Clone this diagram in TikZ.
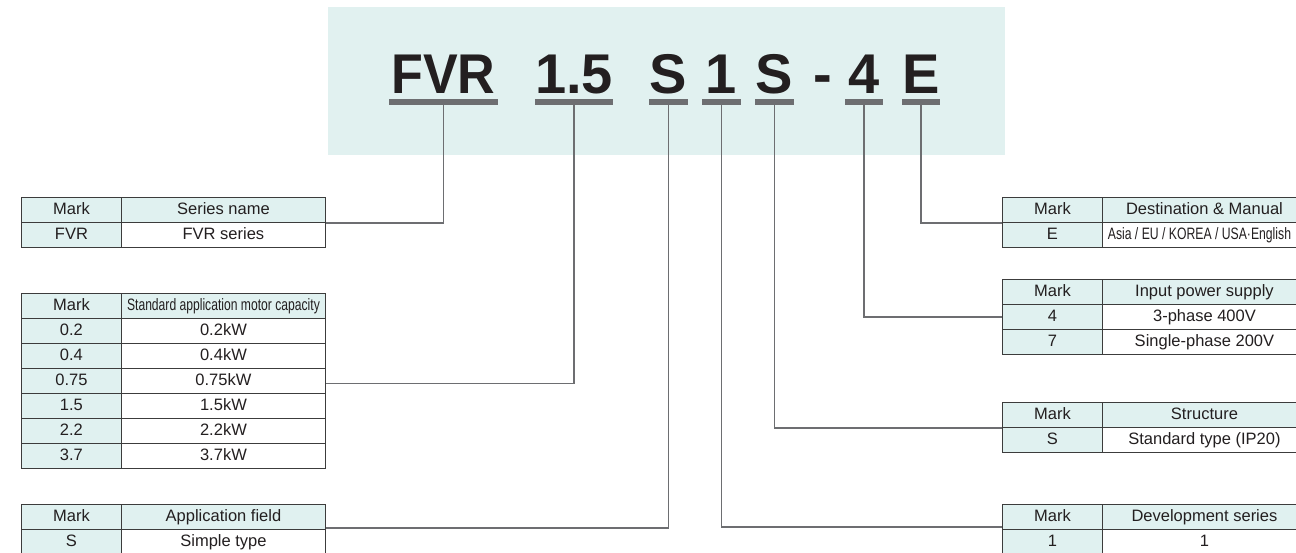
\documentclass[tikz,border=0pt]{standalone}
\usepackage{fontspec}
\setmainfont{Liberation Sans}
\usepackage{graphicx}
\definecolor{banner}{RGB}{225,241,240}
\definecolor{cellteal}{RGB}{224,241,240}
\definecolor{bargray}{RGB}{109,110,113}
\definecolor{ink}{RGB}{35,31,32}
\definecolor{rulec}{RGB}{60,60,60}
\tikzset{
  cell/.style={draw=rulec, line width=0.9pt, inner sep=0pt, minimum height=25pt, anchor=north west, text=ink, font=\fontsize{16.5}{18}\selectfont, text height=11.8pt, text depth=3pt},
  mk/.style={cell, fill=cellteal, minimum width=100pt},
  hd/.style={cell, fill=cellteal, minimum width=204pt},
  val/.style={cell, fill=white, minimum width=204pt},
  code/.style={font=\fontsize{56}{60}\selectfont\bfseries, text=ink, anchor=base, inner sep=0pt},
  bar/.style={fill=bargray, inner sep=0pt, minimum height=6pt},
  conn/.style={draw=bargray, line width=1.4pt}
}
\begin{document}
\begin{tikzpicture}[x=1pt,y=-1pt]
\useasboundingbox (0,0) rectangle (1296,552);
% banner
\fill[banner] (328,7) rectangle (1005,155);
% code letters
\node[code] (cFVR) at (443.5,93) {\scalebox{0.93}[1]{FVR}};
\node[code] (c15) at (574,93) {1.5};
\node[code] (cS1) at (668.5,93) {S};
\node[code] (c1) at (721.5,93) {1};
\node[code] (cS2) at (774.5,93) {S};
\node[code] (cdash) at (822.5,93) {-};
\node[code] (c4) at (864,93) {4};
\node[code] (cE) at (921,93) {E};
% bars
\node[bar, minimum width=109pt] (bFVR) at (443.5,102) {};
\node[bar, minimum width=78pt] (b15) at (574,102) {};
\node[bar, minimum width=39pt] (bS1) at (668.5,102) {};
\node[bar, minimum width=39pt] (b1) at (721.5,102) {};
\node[bar, minimum width=39pt] (bS2) at (774.5,102) {};
\node[bar, minimum width=38pt] (b4) at (864,102) {};
\node[bar, minimum width=38pt] (bE) at (921,102) {};
% left tables
\node[mk] (a0m) at (21,197) {Mark};
\node[hd] (a0v) at (121,197) {Series name};
\node[mk] (a1m) at (21,222) {FVR};
\node[val] (a1v) at (121,222) {FVR series};

\node[mk] (p0m) at (21,293) {Mark};
\node[hd] (p0v) at (121,293) {\scalebox{0.735}[1]{Standard application motor capacity}};
\foreach \m/\v [count=\i] in {0.2/0.2kW,0.4/0.4kW,0.75/0.75kW,1.5/1.5kW,2.2/2.2kW,3.7/3.7kW}{
  \node[mk] (p\i m) at (21,{293+25*\i}) {\m};
  \node[val] (p\i v) at (121,{293+25*\i}) {\v};
}

\node[mk] (s0m) at (21,504) {Mark};
\node[hd] (s0v) at (121,504) {Application field};
\node[mk] (s1m) at (21,529) {S};
\node[val] (s1v) at (121,529) {Simple type};
% right tables
\node[mk] (e0m) at (1002,197) {Mark};
\node[hd] (e0v) at (1102,197) {Destination \& Manual};
\node[mk] (e1m) at (1002,222) {E};
\node[val, minimum width=194pt] (e1v) at (1102,222) {\scalebox{0.74}[1]{Asia / EU / KOREA / USA·English}};
\draw[draw=rulec, line width=0.9pt] (e1v.north east) -- ++(12,0) (e1v.south east) -- ++(12,0);

\node[mk] (w0m) at (1002,279) {Mark};
\node[hd] (w0v) at (1102,279) {Input power supply};
\node[mk] (w1m) at (1002,304) {4};
\node[val] (w1v) at (1102,304) {3-phase 400V};
\node[mk] (w2m) at (1002,329) {7};
\node[val] (w2v) at (1102,329) {Single-phase 200V};

\node[mk] (r0m) at (1002,402) {Mark};
\node[hd] (r0v) at (1102,402) {Structure};
\node[mk] (r1m) at (1002,427) {S};
\node[val] (r1v) at (1102,427) {Standard type (IP20)};

\node[mk] (d0m) at (1002,504) {Mark};
\node[hd] (d0v) at (1102,504) {Development series};
\node[mk] (d1m) at (1002,529) {1};
\node[val] (d1v) at (1102,529) {1};
% connectors
\draw[conn] (bFVR.south) |- (a0v.south east);
\draw[conn] (b15.south) |- ([yshift=-2.5pt]p3v.east);
\draw[conn] (bS1.south) |- ([yshift=2pt]s0v.south east);
\draw[conn] (b1.south) |- ([yshift=3pt]d0m.south west);
\draw[conn] (bS2.south) |- (r0m.south west);
\draw[conn] (b4.south) |- (w1m.west);
\draw[conn] (bE.south) |- (e0m.south west);
\end{tikzpicture}
\end{document}
